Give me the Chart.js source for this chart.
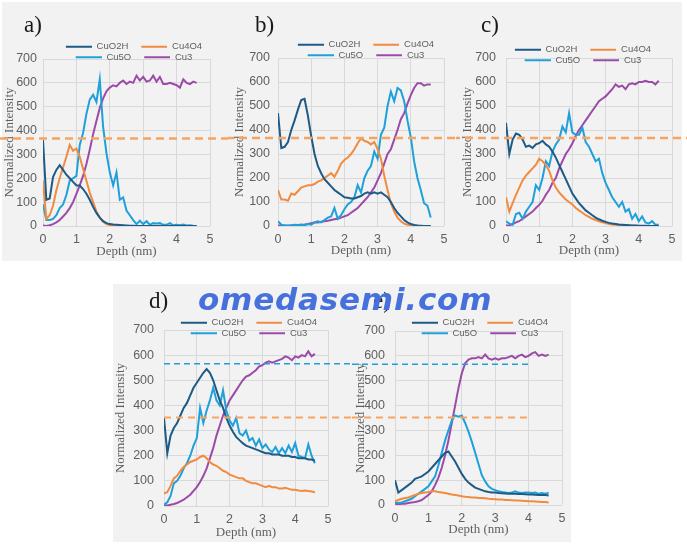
<!DOCTYPE html>
<html><head><meta charset="utf-8">
<script src="https://cdn.jsdelivr.net/npm/chart.js@4.4.1/dist/chart.umd.min.js"></script>
<style>
html,body{margin:0;padding:0;background:#fff}
body{width:687px;height:551px;overflow:hidden;position:relative}
.panel{position:absolute;background:#f2f2f2}
canvas{position:absolute}
.lab{position:absolute;font-family:'Liberation Serif',serif;font-size:23px;line-height:23px;color:#1a1a1a}
#wm{position:absolute;left:198px;top:284px;font-family:'DejaVu Sans',sans-serif;font-weight:bold;font-style:italic;font-size:31px;line-height:31px;color:#4670dc;letter-spacing:0.8px;z-index:5;white-space:nowrap}
</style>
</head>
<body>
<div class="panel" style="left:2px;top:2px;width:680px;height:259px"></div>
<div class="panel" style="left:113px;top:284px;width:458px;height:258px"></div>
<canvas id="ca" width="228" height="262" style="left:0px;top:0px;width:228px;height:262px"></canvas>
<canvas id="cb" width="228" height="262" style="left:228px;top:0px;width:228px;height:262px"></canvas>
<canvas id="cc" width="231" height="262" style="left:456px;top:0px;width:231px;height:262px"></canvas>
<canvas id="cd" width="239" height="258" style="left:113px;top:284px;width:239px;height:258px"></canvas>
<canvas id="ce" width="221" height="258" style="left:352px;top:284px;width:221px;height:258px"></canvas>
<div class="lab" style="left:24px;top:13px">a)</div>
<div class="lab" style="left:255px;top:13px">b)</div>
<div class="lab" style="left:481px;top:13px">c)</div>
<div class="lab" style="left:149px;top:289px">d)</div>
<div class="lab" style="left:373px;top:289px">e)</div>
<div id="wm">omedasemi.com</div>
<script>
// ---- data (depth in nm, normalized intensity) ----
const DEPTH = [0,0.1,0.2,0.3,0.4,0.5,0.6,0.7,0.8,0.9,1.0,1.1,1.2,1.3,1.4,1.5,1.6,1.7,1.8,1.9,2.0,2.1,2.2,2.3,2.4,2.5,2.6,2.7,2.8,2.9,3.0,3.1,3.2,3.3,3.4,3.5,3.6,3.7,3.8,3.9,4.0,4.1,4.2,4.3,4.4,4.5,4.6];
const SERIES_NAMES = ['CuO2H','Cu4O4','Cu5O','Cu3'];
const X_TICKS = [0,1,2,3,4,5];
const Y_TICKS = [0,100,200,300,400,500,600,700];

const A_CUO2H = [360,110,115,205,235,255,235,215,200,185,170,170,155,135,110,80,55,35,20,12,8,6,5,4,3,2,1,1,0,0,0,0,0,0,0,0,0,0,0,0,0,0,0,0,0,0,0];
const A_CU4O4 = [190,30,45,85,150,200,245,290,340,315,325,290,240,190,140,100,60,35,18,8,4,2,1,0,0,0,0,0,0,0,0,0,0,0,0,0,0,0,0,0,0,0,0,0,0,0,0];
const A_CU5O  = [90,25,25,30,45,75,90,130,190,200,210,340,390,470,530,550,520,615,415,305,225,170,225,110,120,65,45,25,8,22,8,20,5,12,10,12,5,5,12,3,5,3,6,2,3,1,0];
const A_CU3   = [2,0,3,8,15,25,40,55,75,100,135,170,210,260,320,385,440,495,535,565,580,590,585,600,610,595,605,600,630,610,625,605,610,630,605,625,595,595,600,595,590,580,615,600,595,605,600];

const B_CUO2H = [470,325,330,350,400,440,485,525,530,460,375,300,250,220,195,180,165,150,140,130,120,118,115,115,120,125,135,140,135,140,135,140,130,120,100,75,55,40,25,15,8,4,2,1,0,0,0];
const B_CU4O4 = [150,110,110,105,135,130,145,160,165,170,170,175,185,190,200,210,220,205,230,260,275,285,300,320,345,365,355,350,340,350,320,280,210,150,95,60,35,20,10,5,3,2,1,0,0,0,0];
const B_CU5O  = [20,5,3,2,3,5,4,5,3,8,5,15,20,15,25,35,40,75,30,45,70,90,100,120,170,140,200,230,250,310,280,380,410,500,560,520,575,565,520,440,370,270,200,150,95,85,35];
const B_CU3   = [2,1,1,1,2,3,4,5,6,8,12,15,15,18,20,22,25,28,30,35,40,45,55,65,75,90,105,120,140,160,190,220,260,300,320,360,400,445,470,510,545,575,595,595,585,590,590];

const C_CUO2H = [430,300,360,385,380,360,330,335,325,340,345,355,340,330,310,285,255,225,195,165,135,115,95,80,65,55,45,35,28,22,17,13,10,8,6,5,4,3,2,2,1,1,1,0,0,0,0];
const C_CU4O4 = [120,60,95,130,160,190,210,225,240,255,280,270,255,230,190,160,140,125,110,100,90,75,65,55,45,38,30,25,20,15,12,8,6,5,4,3,2,2,1,1,0,0,0,0,0,0,0];
const C_CU5O  = [20,10,5,50,55,30,60,80,100,170,150,200,270,250,310,340,360,415,390,470,390,380,380,410,350,330,300,270,280,220,180,150,120,100,80,100,60,70,30,50,20,40,15,10,20,5,5];
const C_CU3   = [2,3,8,15,20,30,40,50,60,75,88,105,130,150,180,200,240,270,300,320,345,375,400,420,440,460,480,500,520,530,540,555,570,590,580,585,570,590,595,590,600,600,605,600,600,590,605];

const D_CUO2H = [350,210,280,310,330,360,390,410,440,470,490,510,530,545,530,500,460,420,390,350,320,295,275,262,250,240,235,230,225,220,215,210,210,205,205,205,200,200,200,195,195,190,190,190,185,185,180];
const D_CU4O4 = [50,55,80,110,120,140,155,165,175,180,185,195,200,190,175,165,160,150,140,135,125,120,115,110,110,100,95,90,90,85,80,75,80,75,75,70,70,72,68,65,65,62,60,62,60,58,55];
const D_CU5O  = [5,15,40,90,100,120,150,170,200,240,270,390,330,380,420,470,420,400,460,380,340,320,350,290,280,300,260,270,240,265,230,245,225,215,235,210,230,210,240,215,250,200,195,190,245,200,170];
const D_CU3   = [3,2,5,8,12,18,25,35,45,60,75,95,120,150,190,230,280,320,360,390,420,440,460,480,500,515,520,530,540,555,560,570,575,570,575,580,585,595,590,580,595,590,600,595,615,595,605];

const E_CUO2H = [100,50,60,70,80,90,105,110,115,125,135,150,165,180,195,210,215,195,175,150,125,105,90,80,70,65,60,55,52,50,50,48,47,46,45,45,45,44,44,43,42,42,41,40,40,40,38];
const E_CU4O4 = [15,20,25,28,30,35,40,45,48,50,52,55,55,52,50,48,45,42,40,38,35,33,32,30,30,28,28,27,25,24,23,22,22,20,20,19,18,18,17,16,15,15,14,13,12,12,10];
const E_CU5O  = [10,8,10,15,20,25,35,45,55,65,75,95,115,160,210,260,300,340,360,355,360,330,295,255,210,165,120,95,75,65,60,55,52,50,48,50,55,50,48,50,50,48,50,45,48,45,50];
const E_CU3   = [5,3,5,5,8,10,12,15,20,30,40,55,80,110,150,200,260,330,400,470,530,570,585,590,590,595,590,605,590,585,590,585,590,590,595,600,590,600,605,595,600,610,615,600,605,600,605];

// reference (dashed) levels
const REF_TOP_CU4O4 = 367;
const REF_BOT_CU4O4 = 352;
const REF_BOT_CU5O = 566;

// ---- styling ----
const COLORS = ['#1d5a85','#f08b40','#1fa0da','#9c4aa8'];
const GRID = '#d9d9d9';
const TXT = '#5f5f5f';
const SW_W = 38, SW_GAP = 12;

function swatch(color) {
  const c = document.createElement('canvas');
  c.width = SW_W; c.height = 4;
  const g = c.getContext('2d');
  g.strokeStyle = color; g.lineWidth = 2;
  g.beginPath(); g.moveTo(SW_GAP, 2); g.lineTo(SW_W, 2); g.stroke();
  return c;
}
const SWATCHES = COLORS.map(swatch);

const legendPatch = {
  id: 'legendPatch',
  afterInit(chart, args, o) {
    const lg = chart.legend;
    if (!lg) return;
    const fit0 = lg.fit, draw0 = lg.draw;
    lg.fit = function () {
      const mw = this.maxWidth;
      this.maxWidth = o.width;
      fit0.call(this);
      this.maxWidth = mw;
      this.width = mw;
      this.height = o.reserve;
    };
    lg.draw = function () {
      const l = this.left, r = this.right, t = this.top, b = this.bottom, w = this.width;
      this.left = o.cx - o.width / 2; this.right = o.cx + o.width / 2;
      this.top = o.top; this.bottom = o.top + 30; this.width = o.width;
      draw0.call(this);
      this.left = l; this.right = r; this.top = t; this.bottom = b; this.width = w;
    };
  }
};

const refLines = {
  id: 'refLines',
  afterDatasetsDraw(chart, args, o) {
    const ctx = chart.ctx, ys = chart.scales.y, xs = chart.scales.x;
    (o.lines || []).forEach(l => {
      const py = ys.getPixelForValue(l.value);
      const x1 = l.from === 'edge' ? 0 : l.from === 'area' ? chart.chartArea.left : xs.getPixelForValue(l.from);
      const x2 = l.to === 'edge' ? chart.width : xs.getPixelForValue(l.to);
      ctx.save();
      ctx.strokeStyle = l.color; ctx.lineWidth = l.width; ctx.setLineDash(l.dash);
      ctx.lineDashOffset = l.offset || 0;
      ctx.beginPath(); ctx.moveTo(x1, py); ctx.lineTo(x2, py); ctx.stroke();
      ctx.restore();
    });
  }
};

function build(id, vals, L) {
  const datasets = vals.map((v, i) => ({
    label: SERIES_NAMES[i],
    data: DEPTH.map((x, k) => ({x: x, y: v[k]})),
    borderColor: COLORS[i], backgroundColor: COLORS[i],
    pointBorderColor: COLORS[i], pointBackgroundColor: COLORS[i], pointBorderWidth: 2,
    pointStyle: SWATCHES[i],
    borderWidth: 2, pointRadius: 0, tension: 0
  }));
  return new Chart(document.getElementById(id), {
    type: 'line',
    data: {datasets},
    plugins: [legendPatch, refLines],
    options: {
      responsive: false, animation: false, devicePixelRatio: 1, events: [],
      layout: {padding: L.pad},
      plugins: {
        tooltip: {enabled: false},
        legend: {
          display: true, position: 'top',
          labels: {usePointStyle: true, pointStyleWidth: SW_W, padding: 1,
                   color: TXT, font: {family: 'Liberation Sans', size: 9.5}}
        },
        legendPatch: {width: 170, cx: L.cx, top: L.ltop, reserve: L.reserve},
        refLines: {lines: L.lines}
      },
      scales: {
        x: {
          type: 'linear', min: 0, max: 5,
          afterBuildTicks: s => { s.ticks = X_TICKS.map(v => ({value: v})); },
          afterFit: s => { s.height = L.xH; },
          grid: {color: GRID, drawTicks: false, lineWidth: 1},
          border: {display: false},
          ticks: {padding: 6, color: TXT, font: {family: 'Liberation Sans', size: 12.5}},
          title: {display: true, text: 'Depth (nm)', color: TXT, padding: 0,
                  font: {family: 'Liberation Serif', size: 13}}
        },
        y: {
          min: 0, max: 700,
          afterBuildTicks: s => { s.ticks = Y_TICKS.map(v => ({value: v})); },
          afterFit: s => { s.width = L.yW; },
          grid: {color: GRID, drawTicks: false, lineWidth: 1},
          border: {display: false},
          ticks: {padding: L.yPad, color: TXT, font: {family: 'Liberation Sans', size: 12.5}},
          title: {display: true, text: 'Normalized Intensity', color: TXT, padding: 0,
                  font: {family: 'Liberation Serif', size: 13}}
        }
      }
    }
  });
}

const topLine = {value: REF_TOP_CU4O4, color: '#f5a560', width: 2.5, dash: [8, 5], from: 'edge', to: 'edge'};

build('ca', [A_CUO2H, A_CU4O4, A_CU5O, A_CU3], {
  pad: {left: 2, right: 18, top: 0, bottom: 3}, yW: 41, xH: 33, yPad: 6,
  cx: 128, ltop: 41, reserve: 59, lines: [topLine]});
build('cb', [B_CUO2H, B_CU4O4, B_CU5O, B_CU3], {
  pad: {left: 4, right: 12, top: 0, bottom: 4}, yW: 46, xH: 32, yPad: 8,
  cx: 132, ltop: 39, reserve: 58, lines: [Object.assign({}, topLine, {offset: 2})]});
build('cc', [C_CUO2H, C_CU4O4, C_CU5O, C_CU3], {
  pad: {left: 4, right: 15, top: 0, bottom: 4}, yW: 46, xH: 32, yPad: 10,
  cx: 121, ltop: 44, reserve: 58, lines: [Object.assign({}, topLine, {offset: 4})]});
build('cd', [D_CUO2H, D_CU4O4, D_CU5O, D_CU3], {
  pad: {left: 0, right: 24, top: 0, bottom: 2}, yW: 51, xH: 34, yPad: 10,
  cx: 130, ltop: 33, reserve: 46, lines: [
    {value: REF_BOT_CU5O, color: '#1fa0da', width: 1.5, dash: [6, 4], from: 'area', to: 'edge'},
    {value: REF_BOT_CU4O4, color: '#f5a560', width: 2, dash: [7, 5], from: 'area', to: 'edge'}]});
build('ce', [E_CUO2H, E_CU4O4, E_CU5O, E_CU3], {
  pad: {left: 1, right: 11, top: 0, bottom: 5}, yW: 42, xH: 32, yPad: 10,
  cx: 122, ltop: 33, reserve: 47, lines: [
    {value: REF_BOT_CU5O, color: '#1fa0da', width: 1.5, dash: [6, 4], from: 'edge', to: 4},
    {value: REF_BOT_CU4O4, color: '#f5a560', width: 2, dash: [7, 5], from: 'edge', to: 4}]});
</script>
</body></html>
